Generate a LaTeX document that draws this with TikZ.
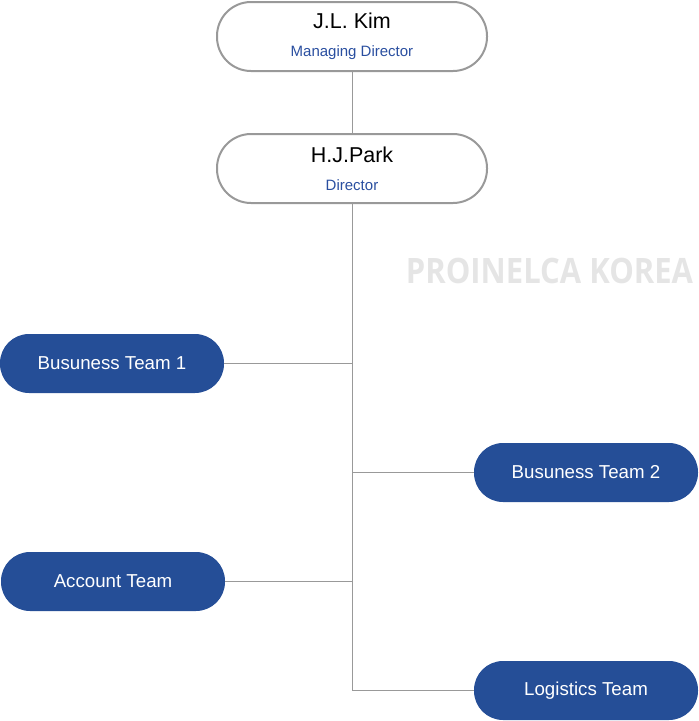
\documentclass[tikz,border=0pt]{standalone}
\usepackage{fontspec}
\setmainfont{Liberation Sans}
\newfontfamily\markfont{Open Sans}

\definecolor{teamblue}{RGB}{37,78,151}
\definecolor{titleblue}{RGB}{42,79,160}
\definecolor{edgegray}{RGB}{153,153,153}
\definecolor{markgray}{RGB}{229,229,229}

\tikzset{
    head/.style={draw=edgegray, line width=2pt, fill=white, rounded corners=34pt,
        minimum width=270pt, minimum height=69pt, inner sep=0pt, align=center,
        font=\fontsize{15}{28}\selectfont},
    team/.style={fill=teamblue, text=white, rounded corners=29pt,
        minimum width=224pt, minimum height=59pt, inner sep=0pt,
        font=\fontsize{18.7}{22}\selectfont},
    link/.style={draw=edgegray, line width=1pt}
}

\begin{document}
\begin{tikzpicture}[x=1pt, y=-1pt]

            \useasboundingbox (0,0) rectangle (699,721);

            \node[font=\markfont\bfseries\fontsize{35}{40}\selectfont, text=markgray] (mark)
                at (549.5,270.5) {\scalebox{0.885}[1]{PROINELCA KOREA}};

            \node[head] (kim) at (352,36.5)
                {{\fontsize{21.5}{25}\selectfont J.L. Kim}\\{\color{titleblue}Managing Director}};
            \node[head] (park) at (352,168.5)
                {{\fontsize{21.5}{25}\selectfont H.J.Park}\\{\color{titleblue}Director}};

            \node[team] (bt1) at (112,363.5) {Busuness Team 1};
            \node[team] (bt2) at (586,472.5) {Busuness Team 2};
            \node[team] (account) at (113,581.5) {Account Team};
            \node[team] (logistics) at (586,690.5) {Logistics Team};

            \draw[link] (kim) -- (park);
            \draw[link] (park) |- (logistics);
            \draw[link] (bt1) -- (bt1 -| park);
            \draw[link] (bt2) -- (bt2 -| park);
            \draw[link] (account) -- (account -| park);

\end{tikzpicture}
\end{document}
